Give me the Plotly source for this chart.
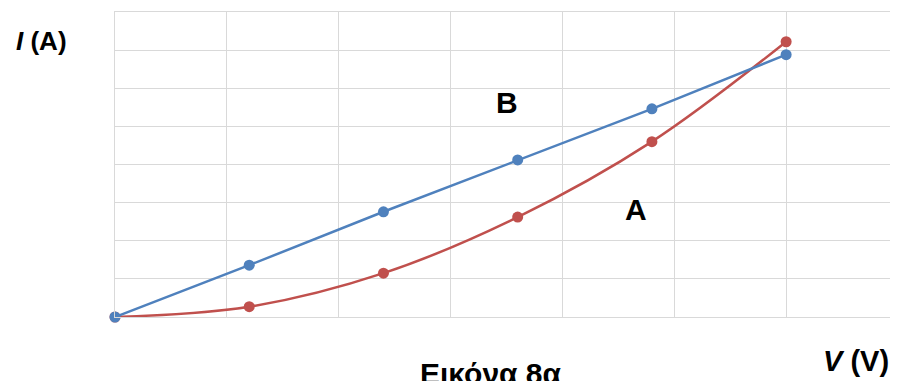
import plotly.graph_objects as go

# Data
voltage = [0, 1.2, 2.4, 3.6, 4.8, 6.0]
current_B = [0, 1.36, 2.76, 4.12, 5.46, 6.88]
current_A = [0, 0.27, 1.15, 2.62, 4.6, 7.22]

BLUE = "#4F81BD"
RED = "#C0504D"
FONT = "Liberation Sans, Arial, sans-serif"

# page body has an 8px margin; compensate so screen pixels match
OFF = 8
W, H = 898 - OFF, 381 - OFF
L, T, PW, PH = 115 - OFF, 12 - OFF, 783, 305


def px(x):
    return (x - OFF - L) / PW


def py(y):
    return (T + PH - (y - OFF)) / PH


fig = go.Figure()
fig.add_trace(go.Scatter(
    x=voltage, y=current_A, mode="lines+markers",
    line=dict(color=RED, width=2.5, shape="spline", smoothing=1),
    marker=dict(color=RED, size=11), cliponaxis=False, showlegend=False,
))
fig.add_trace(go.Scatter(
    x=voltage, y=current_B, mode="lines+markers",
    line=dict(color=BLUE, width=2.5),
    marker=dict(color=BLUE, size=11), cliponaxis=False, showlegend=False,
))

shapes = [
    dict(type="rect", xref="paper", yref="paper", x0=px(475), x1=px(553), y0=py(128), y1=py(80),
         fillcolor="white", line=dict(width=0), layer="between"),
    dict(type="rect", xref="paper", yref="paper", x0=px(604), x1=px(682), y0=py(256), y1=py(178),
         fillcolor="white", line=dict(width=0), layer="between"),
]

annotations = [
    dict(text="<b><i>I</i> (A)</b>", x=px(41), y=py(41), xref="paper", yref="paper",
         showarrow=False, xanchor="center", yanchor="middle", font=dict(size=26, color="black", family=FONT)),
    dict(text="<b><i>V</i> (V)</b>", x=px(856), y=py(361), xref="paper", yref="paper",
         showarrow=False, xanchor="center", yanchor="middle", font=dict(size=29, color="black", family=FONT)),
    dict(text="<b>Εικόνα 8α</b>", x=px(491), y=py(374), xref="paper", yref="paper",
         showarrow=False, xanchor="center", yanchor="middle", font=dict(size=30, color="black", family=FONT)),
    dict(text="<b>B</b>", x=px(507), y=py(102), xref="paper", yref="paper",
         showarrow=False, xanchor="center", yanchor="middle", font=dict(size=30, color="black", family=FONT)),
    dict(text="<b>A</b>", x=px(636), y=py(209), xref="paper", yref="paper",
         showarrow=False, xanchor="center", yanchor="middle", font=dict(size=30, color="black", family=FONT)),
]

fig.update_layout(
    width=W, height=H,
    margin=dict(l=L, r=W - L - PW, t=T, b=H - T - PH, pad=0),
    paper_bgcolor="white", plot_bgcolor="white",
    shapes=shapes, annotations=annotations,
    showlegend=False,
)
fig.update_xaxes(range=[0, 7], tick0=0, dtick=1, showticklabels=False, ticks="",
                 showgrid=True, gridcolor="#d9d9d9", gridwidth=1, zeroline=False,
                 showline=True, linecolor="#d9d9d9", linewidth=1, mirror=True)
fig.update_yaxes(range=[0, 8], tick0=0, dtick=1, showticklabels=False, ticks="",
                 showgrid=True, gridcolor="#d9d9d9", gridwidth=1, zeroline=False,
                 showline=True, linecolor="#d9d9d9", linewidth=1, mirror=True)

fig.write_html("out.html")
